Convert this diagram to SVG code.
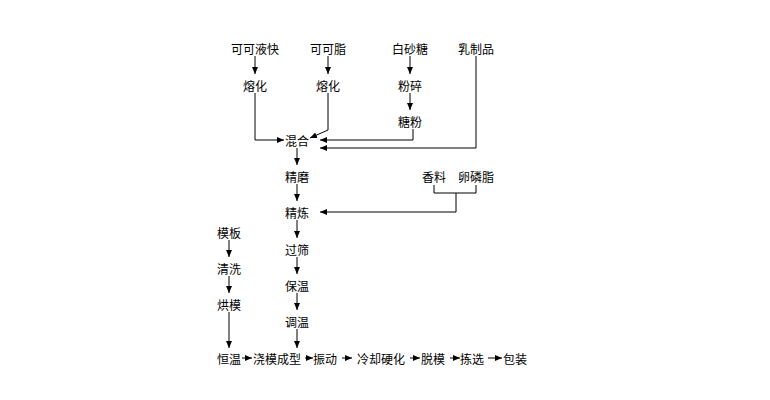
<svg xmlns="http://www.w3.org/2000/svg" width="770" height="400" viewBox="0 0 770 400">
<defs><marker id="a" markerWidth="8" markerHeight="8" refX="7" refY="4" orient="auto" markerUnits="userSpaceOnUse"><path d="M0,1 L7,4 L0,7 Z" fill="#000"/></marker></defs>
<style>text{font-family:"Noto Sans CJK SC",sans-serif;font-size:12px;fill:#000;text-anchor:middle;dominant-baseline:central}.c path{fill:none;stroke:#000;stroke-width:1;marker-end:url(#a)}.c .n{marker-end:none}</style>
<rect width="770" height="400" fill="#fff"/>
<g id="n1"><text x="255" y="48">可可液快</text></g>
<g id="n2"><text x="328" y="48">可可脂</text></g>
<g id="n3"><text x="410" y="48">白砂糖</text></g>
<g id="n4"><text x="476" y="48">乳制品</text></g>
<g id="n5"><text x="255" y="85">熔化</text></g>
<g id="n6"><text x="328" y="85">熔化</text></g>
<g id="n7"><text x="410" y="85">粉碎</text></g>
<g id="n8"><text x="410" y="121">糖粉</text></g>
<g id="n9"><text x="297" y="140">混合</text></g>
<g id="n10"><text x="297" y="176">精磨</text></g>
<g id="n11"><text x="434" y="176">香料</text></g>
<g id="n12"><text x="476" y="176">卵磷脂</text></g>
<g id="n13"><text x="297" y="212">精炼</text></g>
<g id="n14"><text x="297" y="249">过筛</text></g>
<g id="n15"><text x="297" y="285">保温</text></g>
<g id="n16"><text x="297" y="321">调温</text></g>
<g id="n17"><text x="229" y="232">模板</text></g>
<g id="n18"><text x="229" y="268">清洗</text></g>
<g id="n19"><text x="229" y="304">烘模</text></g>
<g id="n20"><text x="229" y="358">恒温</text></g>
<g id="n21"><text x="277" y="358">浇模成型</text></g>
<g id="n22"><text x="325" y="358">振动</text></g>
<g id="n23"><text x="381" y="358">冷却硬化</text></g>
<g id="n24"><text x="433" y="358">脱模</text></g>
<g id="n25"><text x="472" y="358">拣选</text></g>
<g id="n26"><text x="515" y="358">包装</text></g>
<g class="c" id="connectors">
<path d="M255,56 V74"/><path d="M328,56 V74"/><path d="M410,56 V74"/><path d="M410,93 V110"/>
<path d="M255,93 V140 H284"/>
<path d="M328,93 V130 L310,138"/>
<path d="M413,129 V140 H320"/>
<path d="M476,56 V148 H320"/>
<path d="M297,148 V165"/><path d="M297,184 V201"/><path d="M297,220 V238"/><path d="M297,257 V274"/><path d="M297,293 V310"/><path d="M297,329 V348"/>
<path class="n" d="M434,185 V193 H476 V185"/>
<path d="M456,193 V212 H320"/>
<path d="M229,240 V257"/><path d="M229,276 V293"/><path d="M229,312 V348"/>
<path d="M242,358 H252"/><path d="M305,358 H313"/><path d="M342,358 H352"/><path d="M410,358 H420"/><path d="M450,358 H460"/><path d="M488,358 H502"/>
</g>
</svg>
